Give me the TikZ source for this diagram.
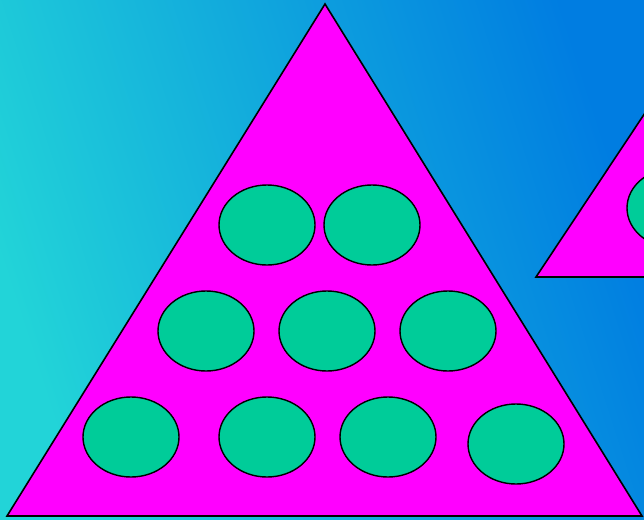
\documentclass[tikz,border=0pt]{standalone}
\usetikzlibrary{shapes.geometric}
\definecolor{bgA}{RGB}{34,212,216}
\definecolor{bgB}{RGB}{0,125,225}
\definecolor{tri}{RGB}{255,0,255}
\definecolor{ell}{RGB}{0,204,153}
\begin{document}
\begin{tikzpicture}[x=1pt,y=-1pt,
  trishape/.style={fill=tri,draw=black,line width=1.6pt,line join=miter},
  disc/.style={ellipse,minimum width=96pt,minimum height=80pt,fill=ell,draw=black,line width=1.4pt,inner sep=0pt}]
\useasboundingbox (0,0) rectangle (644,519);
\begin{scope}
\clip (0,0) rectangle (644,519);
\shade[left color=bgA,right color=bgB,shading angle=108] (0,0) rectangle (644,519);
\coordinate (sl) at (536,277);
\coordinate (st) at (750,-45);
\coordinate (sr) at (964,277);
\draw[trishape] (sl) -- (st) -- (sr) -- cycle;
\node[disc] (s1) at (675,208) {};
\coordinate (apex) at (325,4);
\coordinate (bl) at (7,516);
\coordinate (br) at (642,516);
\draw[trishape] (bl) -- (apex) -- (br) -- cycle;
\node[disc] (e1) at (267,225) {};
\node[disc] (e2) at (372,225) {};
\node[disc] (e3) at (206,331) {};
\node[disc] (e4) at (327,331) {};
\node[disc] (e5) at (448,331) {};
\node[disc] (e6) at (131,437) {};
\node[disc] (e7) at (267,437) {};
\node[disc] (e8) at (388,437) {};
\node[disc] (e9) at (516,444) {};
\end{scope}
\end{tikzpicture}
\end{document}
